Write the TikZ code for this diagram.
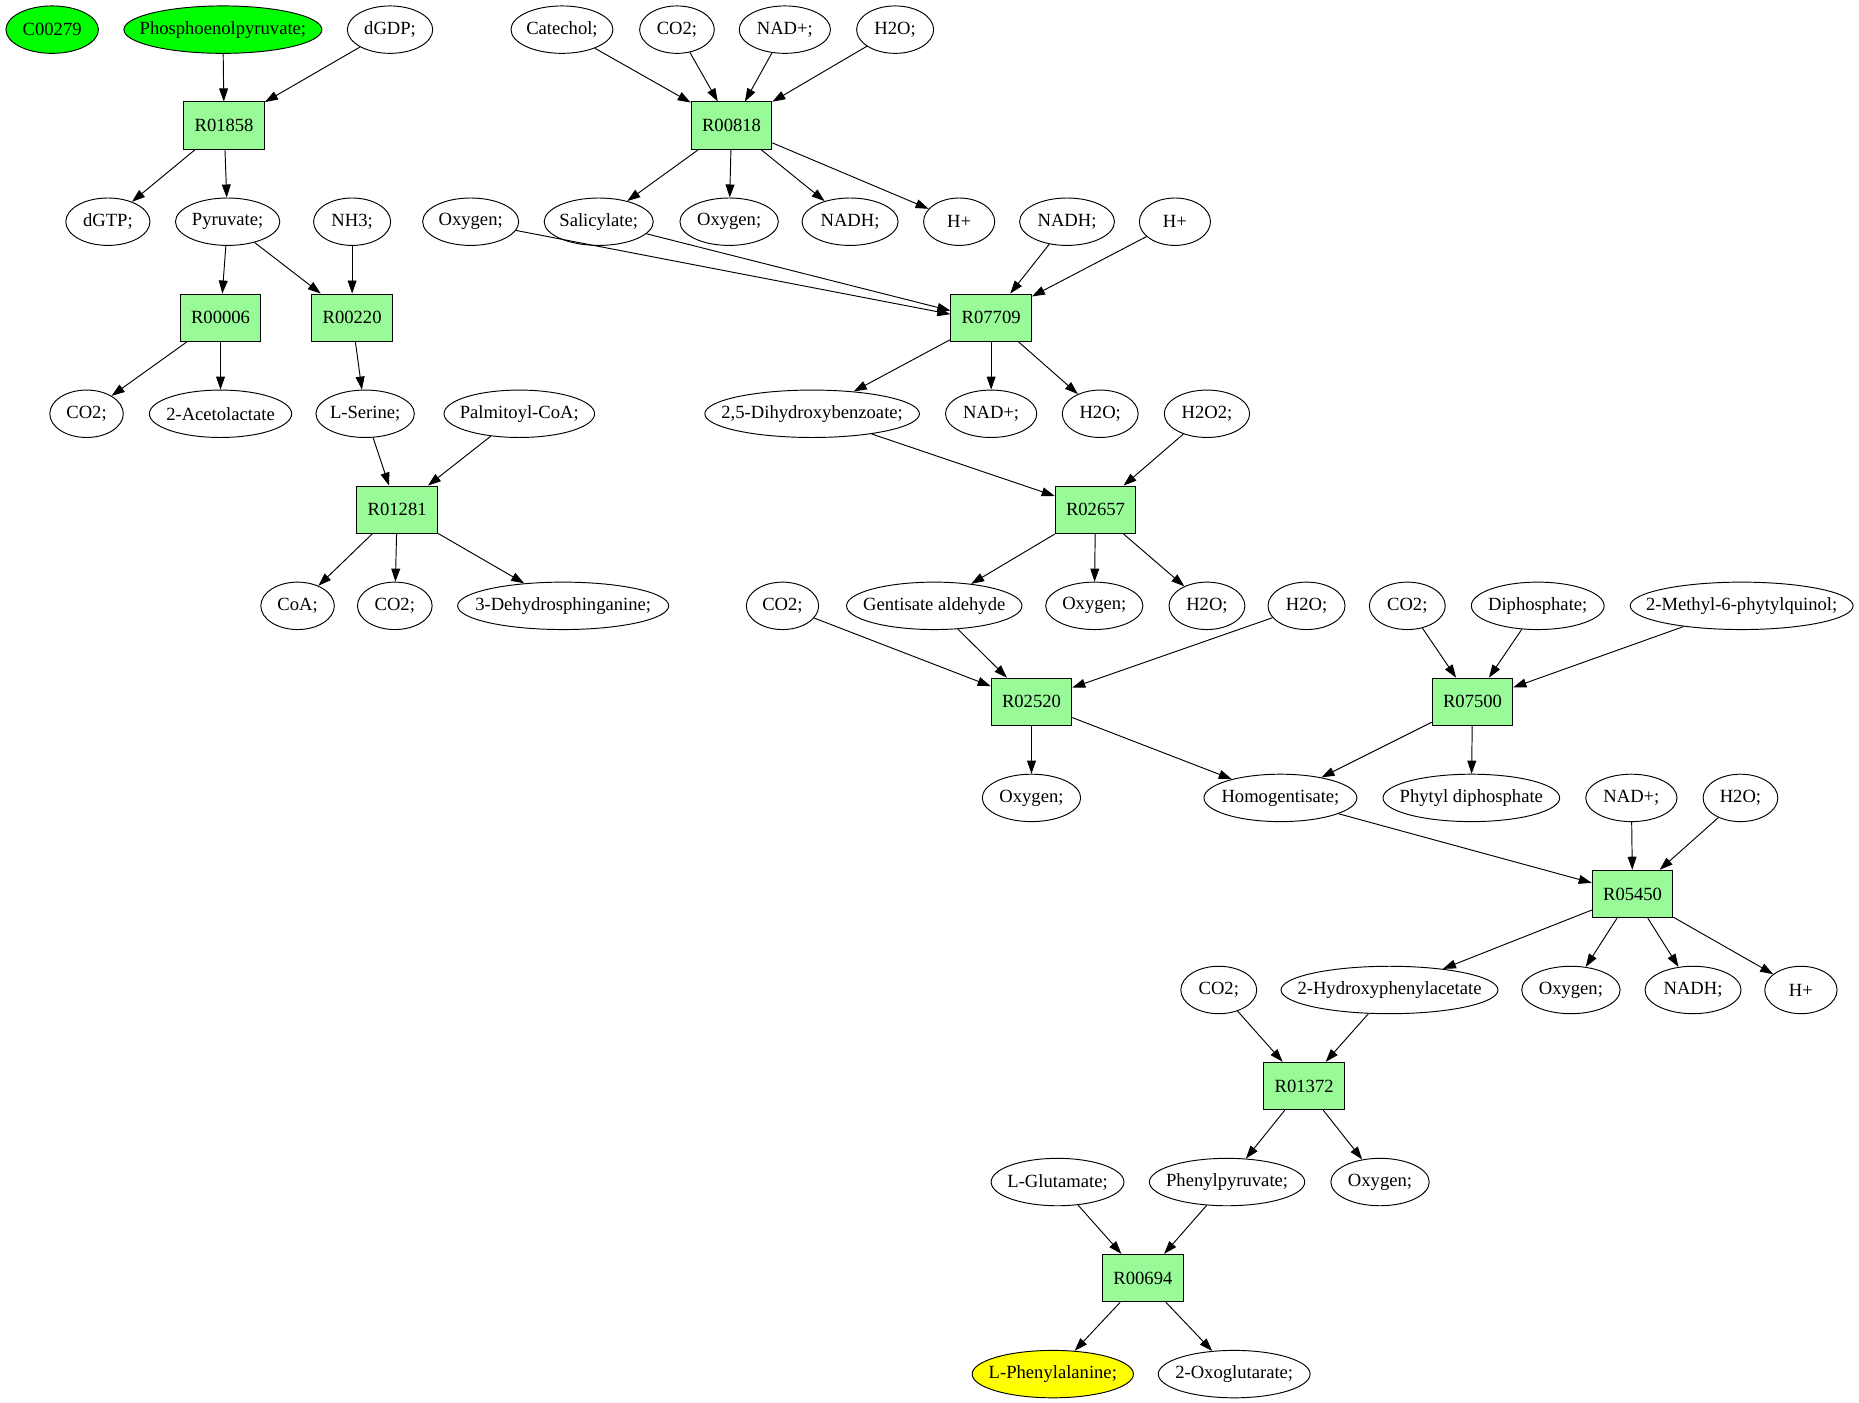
\documentclass[tikz,border=0pt]{standalone}
\usepackage{fontspec}
\setmainfont{Liberation Serif}
\usetikzlibrary{shapes.geometric,arrows.meta}
\newcommand{\zt}[1]{\makebox[0pt]{#1}}
\definecolor{boxgreen}{HTML}{98FB98}
\definecolor{startgreen}{HTML}{00FF00}
\definecolor{endyellow}{HTML}{FFFF00}
\begin{document}
\begin{tikzpicture}[x=1pt,y=-1pt,
  met/.style={draw,ellipse,inner sep=0pt,minimum height=40pt,line width=0.8pt,font=\fontsize{15.7}{18}\selectfont},
  rxn/.style={draw,rectangle,fill=boxgreen,inner sep=0pt,minimum width=68pt,minimum height=40pt,line width=0.8pt,font=\fontsize{15.7}{18}\selectfont},
  src/.style={fill=startgreen},
  dst/.style={fill=endyellow},
  edge/.style={line width=0.8pt,-{Triangle[length=11pt,width=7.5pt]}}]
\useasboundingbox (0,0) rectangle (1568,1183);
% row 1
\node[met,src,minimum width=78pt] (c00279) at (44,25) {\zt{C00279}};
\node[met,src,minimum width=167pt] (pep) at (188,25) {\zt{Phosphoenolpyruvate;}};
\node[met,minimum width=72pt] (dgdp) at (329,25) {\zt{dGDP;}};
\node[met,minimum width=86pt] (catechol) at (474,25) {\zt{Catechol;}};
\node[met,minimum width=63pt] (co2a) at (571,25) {\zt{CO2;}};
\node[met,minimum width=77pt] (nada) at (662,25) {\zt{NAD+;}};
\node[met,minimum width=65pt] (h2oa) at (755,25) {\zt{H2O;}};
% row 2
\node[rxn] (r01858) at (189,106) {R01858};
\node[rxn] (r00818) at (617,106) {R00818};
% row 3
\node[met,minimum width=71pt] (dgtp) at (91,187) {\zt{dGTP;}};
\node[met,minimum width=88pt] (pyr) at (192,187) {\zt{Pyruvate;}};
\node[met,minimum width=65pt] (nh3) at (297,187) {\zt{NH3;}};
\node[met,minimum width=81pt] (oxya) at (397,187) {\zt{Oxygen;}};
\node[met,minimum width=92pt] (sal) at (505,187) {\zt{Salicylate;}};
\node[met,minimum width=83pt] (oxyb) at (615,187) {\zt{Oxygen;}};
\node[met,minimum width=81pt] (nadha) at (717,187) {\zt{NADH;}};
\node[met,minimum width=60pt] (hpa) at (809,187) {\zt{H+}};
\node[met,minimum width=80pt] (nadhb) at (900,187) {\zt{NADH;}};
\node[met,minimum width=60pt] (hpb) at (991,187) {\zt{H+}};
% row 4
\node[rxn] (r00006) at (186,268) {R00006};
\node[rxn] (r00220) at (297,268) {R00220};
\node[rxn] (r07709) at (836,268) {R07709};
\coordinate (r07709sal) at ([yshift=6pt]r07709.west);
\coordinate (r07709oxy) at ([yshift=3pt]r07709.west);
% row 5
\node[met,minimum width=62pt] (co2b) at (73,349) {\zt{CO2;}};
\node[met,minimum width=120pt] (acetol) at (186,349) {\zt{2-Acetolactate}};
\node[met,minimum width=83pt] (lser) at (308,349) {\zt{L-Serine;}};
\node[met,minimum width=127pt] (palm) at (438,349) {\zt{Palmitoyl-CoA;}};
\node[met,minimum width=181pt] (dhb) at (685,349) {\zt{2,5-Dihydroxybenzoate;}};
\node[met,minimum width=77pt] (nadb) at (836,349) {\zt{NAD+;}};
\node[met,minimum width=64pt] (h2ob) at (928,349) {\zt{H2O;}};
\node[met,minimum width=72pt] (h2o2) at (1018,349) {\zt{H2O2;}};
% row 6
\node[rxn] (r01281) at (335,430) {R01281};
\node[rxn] (r02657) at (924,430) {R02657};
% row 7
\node[met,minimum width=62pt] (coa) at (251,511) {\zt{CoA;}};
\node[met,minimum width=63pt] (co2c) at (333,511) {\zt{CO2;}};
\node[met,minimum width=178pt] (dhs) at (475,511) {\zt{3-Dehydrosphinganine;}};
\node[met,minimum width=61pt] (co2d) at (660,511) {\zt{CO2;}};
\node[met,minimum width=148pt] (gald) at (788,511) {\zt{Gentisate aldehyde}};
\node[met,minimum width=82pt] (oxyc) at (923,511) {\zt{Oxygen;}};
\node[met,minimum width=64pt] (h2oc) at (1018,511) {\zt{H2O;}};
\node[met,minimum width=65pt] (h2od) at (1102,511) {\zt{H2O;}};
\node[met,minimum width=64pt] (co2e) at (1187,511) {\zt{CO2;}};
\node[met,minimum width=112pt] (diph) at (1297,511) {\zt{Diphosphate;}};
\node[met,minimum width=188pt] (mpq) at (1469,511) {\zt{2-Methyl-6-phytylquinol;}};
% row 8
\node[rxn] (r02520) at (870,592) {R02520};
\node[rxn] (r07500) at (1242,592) {R07500};
% row 9
\node[met,minimum width=83pt] (oxyd) at (870,673) {\zt{Oxygen;}};
\node[met,minimum width=129pt] (hgen) at (1080,673) {\zt{Homogentisate;}};
\node[met,minimum width=149pt] (phyt) at (1241,673) {\zt{Phytyl diphosphate}};
\node[met,minimum width=77pt] (nadc) at (1376,673) {\zt{NAD+;}};
\node[met,minimum width=63pt] (h2oe) at (1468,673) {\zt{H2O;}};
% row 10
\node[rxn] (r05450) at (1377,754) {R05450};
% row 11
\node[met,minimum width=64pt] (co2f) at (1028,835) {\zt{CO2;}};
\node[met,minimum width=183pt] (hpa2) at (1172,835) {\zt{2-Hydroxyphenylacetate}};
\node[met,minimum width=83pt] (oxye) at (1325,835) {\zt{Oxygen;}};
\node[met,minimum width=81pt] (nadhc) at (1428,835) {\zt{NADH;}};
\node[met,minimum width=61pt] (hpc) at (1519,835) {\zt{H+}};
% row 12
\node[rxn] (r01372) at (1100,916) {R01372};
% row 13
\node[met,minimum width=112pt] (lglu) at (892,997) {\zt{L-Glutamate;}};
\node[met,minimum width=131pt] (ppyr) at (1035,997) {\zt{Phenylpyruvate;}};
\node[met,minimum width=83pt] (oxyf) at (1164,997) {\zt{Oxygen;}};
% row 14
\node[rxn] (r00694) at (964,1078) {R00694};
% row 15
\node[met,dst,minimum width=136pt] (lphe) at (888,1159) {\zt{L-Phenylalanine;}};
\node[met,minimum width=128pt] (oxog) at (1041,1159) {\zt{2-Oxoglutarate;}};
% edges
\foreach \a/\b in {pep/r01858,dgdp/r01858,r01858/dgtp,r01858/pyr,
  pyr/r00006,pyr/r00220,nh3/r00220,r00006/co2b,r00006/acetol,r00220/lser,
  lser/r01281,palm/r01281,r01281/coa,r01281/co2c,r01281/dhs,
  catechol/r00818,co2a/r00818,nada/r00818,h2oa/r00818,
  r00818/sal,r00818/oxyb,r00818/nadha,r00818/hpa,
  nadhb/r07709,hpb/r07709,
  r07709/dhb,r07709/nadb,r07709/h2ob,
  dhb/r02657,h2o2/r02657,r02657/gald,r02657/oxyc,r02657/h2oc,
  co2d/r02520,gald/r02520,h2od/r02520,r02520/oxyd,r02520/hgen,
  co2e/r07500,diph/r07500,mpq/r07500,r07500/hgen,r07500/phyt,
  hgen/r05450,nadc/r05450,h2oe/r05450,
  r05450/hpa2,r05450/oxye,r05450/nadhc,r05450/hpc,
  co2f/r01372,hpa2/r01372,r01372/ppyr,r01372/oxyf,
  lglu/r00694,ppyr/r00694,r00694/lphe,r00694/oxog}
  \draw[edge] (\a) -- (\b);
\draw[edge] (oxya) -- (r07709oxy);
\draw[edge] (sal) -- (r07709sal);
\end{tikzpicture}
\end{document}
